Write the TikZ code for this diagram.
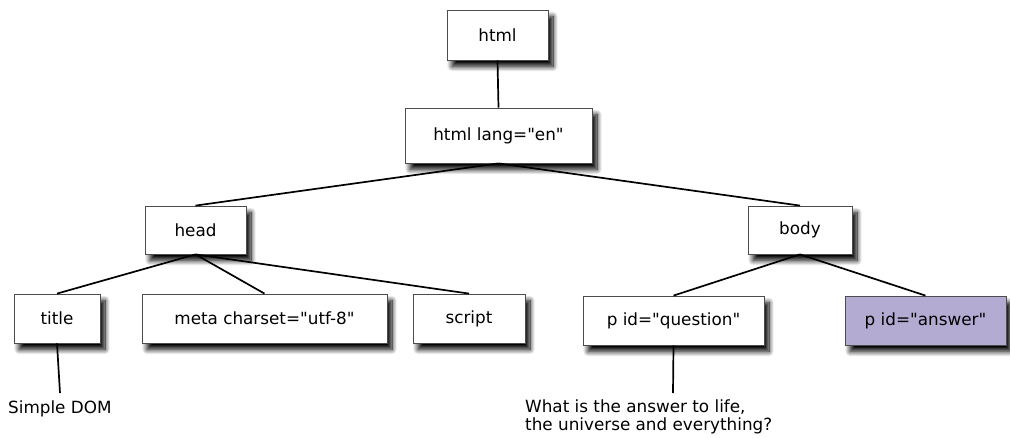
\documentclass[tikz,border=0pt]{standalone}
\usepackage{fontspec}
\setmainfont{DejaVu Sans}[Ligatures=TeXOff]
\usetikzlibrary{shadows.blur}
\definecolor{answerfill}{HTML}{B4ABD2}
\begin{document}
\begin{tikzpicture}[x=1pt,y=-1pt,
  box/.style={draw=black!70, line width=0.8pt, fill=white, inner sep=0pt,
    minimum height=49pt,
    blur shadow={shadow xshift=5pt, shadow yshift=-6.5pt, shadow blur steps=12,
      shadow blur radius=5pt, shadow opacity=100},
    font=\fontsize{16.8}{20}\selectfont},
  link/.style={line width=1.7pt, black},
  caption/.style={font=\fontsize{16.8}{17.5}\selectfont, inner sep=0pt, align=left}]
\useasboundingbox (0,0) rectangle (1010,438);

% tree nodes
\node[box, minimum width=101pt, minimum height=50pt] (html) at (497.5,35) {html};
\node[box, minimum width=187pt, minimum height=55pt] (lang) at (498.5,135.5) {html lang="en"};
\node[box, minimum width=101pt, minimum height=48pt] (head) at (195.5,230) {head};
\node[box, minimum width=104pt, minimum height=48pt] (body) at (800,230) {body};
\node[box, minimum width=86pt] (title) at (57,318.5) {title};
\node[box, minimum width=245pt] (meta) at (264.5,318.5) {meta charset="utf-8"};
\node[box, minimum width=112pt] (script) at (469,318.5) {script};
\node[box, minimum width=181pt] (pq) at (673.5,320.5) {p id="question"};
\node[box, minimum width=161pt, fill=answerfill] (pa) at (925.5,320.5) {p id="answer"};

% captions
\coordinate (tEnd) at (60,393);
\coordinate (qEnd) at (673,393);
\node[caption, anchor=north west] (dom) at (8,401) {Simple DOM};
\node[caption, anchor=north west] (life) at (525,400) {What is the answer to life,\\the universe and everything?};

% connectors
\draw[link] (html.south) -- (lang.north);
\draw[link] (lang.south) -- (head.north);
\draw[link] (lang.south) -- (body.north);
\draw[link] (head.south) -- (title.north);
\draw[link] (head.south) -- (meta.north);
\draw[link] (head.south) -- (script.north);
\draw[link] (body.south) -- (pq.north);
\draw[link] (body.south) -- (pa.north);
\draw[link] (title.south) -- (tEnd);
\draw[link] (pq.south) -- (qEnd);
\end{tikzpicture}
\end{document}
